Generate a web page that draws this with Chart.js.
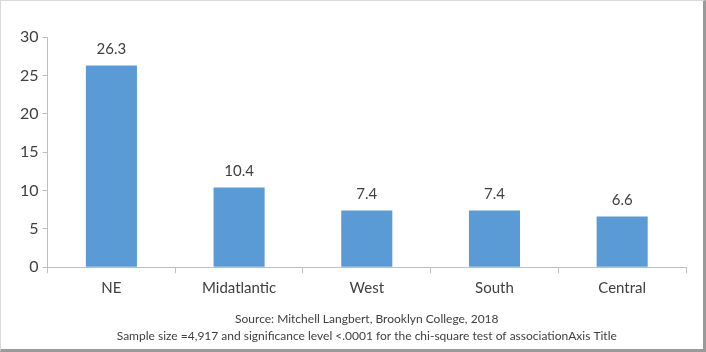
<!DOCTYPE html>
<html><head><meta charset="utf-8">
<script src="https://cdn.jsdelivr.net/npm/chart.js@4/dist/chart.umd.min.js"></script>
<style>
html,body{margin:0;padding:0;background:#fff;}
#wrap{position:relative;width:706px;height:352px;}
#frame{position:absolute;left:0;top:0;border-top:1px solid #d9d9d9;border-left:1px solid #d9d9d9;border-right:3px solid #9a9a9a;border-bottom:3px solid #9a9a9a;box-sizing:border-box;width:706px;height:352px;pointer-events:none;}
</style></head>
<body>
<div id="wrap"><canvas id="c" width="706" height="352"></canvas><div id="frame"></div></div>
<script>
const categories = ["NE", "Midatlantic", "West", "South", "Central"];
const values = [26.3, 10.4, 7.4, 7.4, 6.6];
const yTicks = [0, 5, 10, 15, 20, 25, 30];
const axisTitle = ["Source: Mitchell Langbert, Brooklyn College, 2018", "Sample size =4,917 and significance level <.0001 for the chi-square test of associationAxis Title"];

const FONT = "Lato, 'Open Sans', 'Liberation Sans', sans-serif";
const labelPlugin = {
  id: 'valueLabels',
  afterDatasetsDraw(chart) {
    const ctx = chart.ctx;
    const meta = chart.getDatasetMeta(0);
    ctx.save();
    ctx.font = "15px " + FONT;
    ctx.fillStyle = "#404040";
    ctx.textAlign = "center";
    ctx.textBaseline = "middle";
    meta.data.forEach((el, i) => {
      ctx.fillText(values[i].toFixed(1), el.x, el.y - 16);
    });
    ctx.restore();
  }
};

new Chart(document.getElementById('c'), {
  type: 'bar',
  data: { labels: categories, datasets: [{ data: values, backgroundColor: '#5B9BD5', barPercentage: 0.8, categoryPercentage: 0.5 }] },
  options: {
    responsive: false, animation: false, devicePixelRatio: 1,
    layout: { padding: { left: 16, right: 20, top: 37, bottom: 7 } },
    plugins: { legend: { display: false }, tooltip: { enabled: false } },
    scales: {
      x: {
        grid: { display: true, drawOnChartArea: false, drawTicks: true, tickLength: 6, color: '#bfbfbf', offset: true },
        border: { color: '#bfbfbf' },
        ticks: { font: { family: FONT, size: 15 }, color: '#404040', padding: 6 },
        title: { display: true, text: axisTitle, font: { family: FONT, size: 12, lineHeight: 1.45 }, color: '#404040', padding: { top: 7, bottom: 0 } }
      },
      y: {
        min: 0, max: 30,
        afterBuildTicks(axis) { axis.ticks = yTicks.map(v => ({ value: v })); },
        grid: { display: true, drawOnChartArea: false, drawTicks: true, tickLength: 5, color: '#bfbfbf' },
        border: { color: '#bfbfbf' },
        ticks: { font: { family: FONT, size: 16 }, color: '#404040', padding: 4 }
      }
    }
  },
  plugins: [labelPlugin]
});
</script>
</body></html>
